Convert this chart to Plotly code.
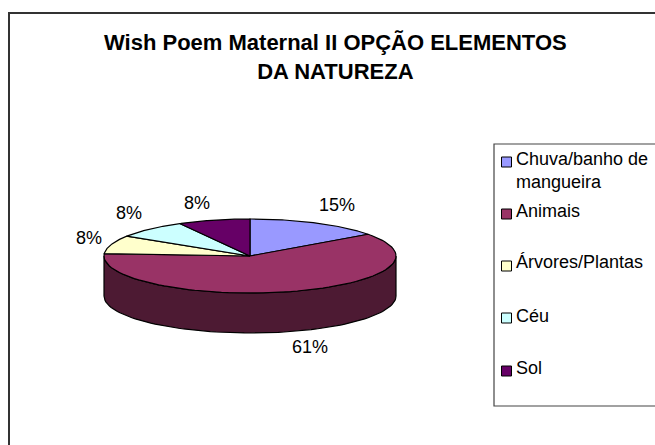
import math
import plotly.graph_objects as go

categories = ["Chuva/banho de<br>mangueira", "Animais", "Árvores/Plantas", "Céu", "Sol"]
values = [15, 61, 8, 8, 8]
colors = ["#9999FF", "#993366", "#FFFFCC", "#CCFFFF", "#660066"]
side_color = "#4D1A33"
title_text = "<b>Wish Poem Maternal II OPÇÃO ELEMENTOS<br>DA NATUREZA</b>"

CX, CY, RX, RY, DEPTH = 250, 256, 146, 37, 40
LABEL_POS = [(337, 206), (310, 348), (89, 239), (129, 214), (197, 204)]
LEGEND_Y = [162, 214, 266, 318, 371]
LEGEND_TEXT_Y = [172, 212, 263, 317, 369]


def pt(frac, dy=0):
    a = 2 * math.pi * frac
    return CX + RX * math.sin(a), CY - RY * math.cos(a) + dy


def arc(f0, f1, dy=0, n=80):
    pts = [pt(f0 + (f1 - f0) * i / n, dy) for i in range(n + 1)]
    return [p[0] for p in pts], [p[1] for p in pts]


fig = go.Figure()
total = sum(values)

# side wall of the disc (front half only)
x1, y1 = arc(0.25, 0.75, 0)
x2, y2 = arc(0.75, 0.25, DEPTH)
fig.add_trace(go.Scatter(x=x1 + x2 + x1[:1], y=y1 + y2 + y1[:1], mode="lines", fill="toself",
                         fillcolor=side_color, line=dict(color="black", width=1.2),
                         hoverinfo="skip", showlegend=False))

cum = 0
for v, c in zip(values, colors):
    f0, f1 = cum / total, (cum + v) / total
    cum += v
    xs, ys = arc(f0, f1)
    fig.add_trace(go.Scatter(x=[CX] + xs + [CX], y=[CY] + ys + [CY], mode="lines", fill="toself",
                             fillcolor=c, line=dict(color="black", width=1.2),
                             hoverinfo="skip", showlegend=False))

fig.add_trace(go.Scatter(x=[p[0] for p in LABEL_POS], y=[p[1] for p in LABEL_POS], mode="text",
                         text=[f"{round(100 * v / total)}%" for v in values],
                         textfont=dict(family="Liberation Sans", size=18, color="black"),
                         hoverinfo="skip", showlegend=False))

fig.add_trace(go.Scatter(x=[506.5] * 5, y=LEGEND_Y, mode="markers",
                         marker=dict(symbol="square", size=10, color=colors, line=dict(color="black", width=1)),
                         hoverinfo="skip", showlegend=False))
fig.add_trace(go.Scatter(x=[516] * 5, y=LEGEND_TEXT_Y, mode="text", text=categories, textposition="middle right",
                         textfont=dict(family="Liberation Sans", size=18, color="black"),
                         hoverinfo="skip", showlegend=False))

fig.update_layout(
    width=655, height=445, margin=dict(l=0, r=0, t=0, b=0), autosize=False,
    paper_bgcolor="white", plot_bgcolor="white",
    xaxis=dict(range=[0, 655], visible=False, fixedrange=True),
    yaxis=dict(range=[445, 0], visible=False, fixedrange=True),
    shapes=[
        dict(type="rect", x0=9, y0=13, x1=680, y1=470, line=dict(color="#333333", width=2), layer="below"),
        dict(type="rect", x0=494, y0=144, x1=680, y1=406, line=dict(color="#444444", width=1.2), layer="below"),
    ],
    annotations=[dict(x=335, y=57, xref="x", yref="y", text=title_text, showarrow=False,
                      font=dict(family="Liberation Sans", size=22, color="black"), align="center")],
)
fig.write_html("out.html", post_script="document.body.style.margin='0';", config={"displayModeBar": False})
